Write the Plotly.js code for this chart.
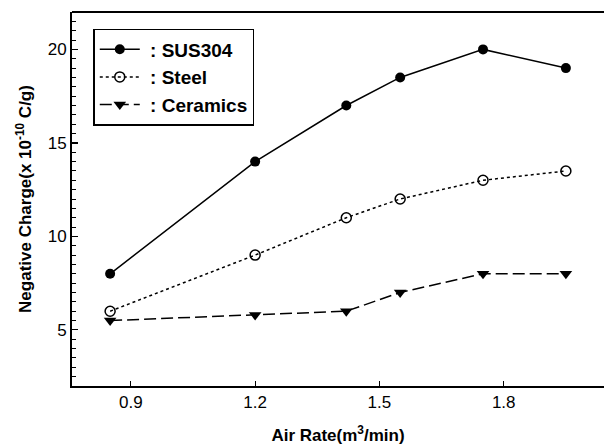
<!DOCTYPE html>
<html>
<head>
<meta charset="utf-8">
<script src="https://cdn.plot.ly/plotly-3.0.1.min.js"></script>
<style>html,body{margin:0;padding:0;background:#fff;}#chart{width:604px;height:447px;}</style>
</head>
<body>
<div id="chart"></div>
<script>
const airRate = [0.85, 1.2, 1.42, 1.55, 1.75, 1.95];
const sus304 = [8.0, 14.0, 17.0, 18.5, 20.0, 19.0];
const steel = [6.0, 9.0, 11.0, 12.0, 13.0, 13.5];
const ceramics = [5.5, 5.8, 6.0, 7.0, 8.0, 8.0];
const seriesNames = ['&nbsp;: SUS304', '&nbsp;: Steel', '&nbsp;: Ceramics'];
const xTicks = [0.9, 1.2, 1.5, 1.8];
const yTicks = [5, 10, 15, 20];

const FONT = 'Liberation Sans, Arial, sans-serif';

const traces = [
  {x: airRate, y: sus304, name: seriesNames[0], mode: 'lines+markers',
   line: {color: '#000', width: 1.5, dash: 'solid'},
   marker: {symbol: 'circle', size: 10, color: '#000'}},
  {x: airRate, y: steel, name: seriesNames[1], mode: 'lines+markers',
   line: {color: '#000', width: 1.5, dash: 'dot'},
   marker: {symbol: 'circle-open', size: 10, color: '#000', line: {width: 1.5, color: '#000'}}},
  {x: airRate, y: ceramics, name: seriesNames[2], mode: 'lines+markers',
   line: {color: '#000', width: 1.5, dash: '12px,5px'},
   marker: {symbol: 'triangle-down', size: 11, color: '#000'}}
];

const layout = {
  width: 604, height: 447,
  margin: {l: 72, r: 0, t: 12, b: 61},
  paper_bgcolor: '#fff', plot_bgcolor: '#fff',
  font: {family: FONT, color: '#000', size: 17},
  showlegend: true,
  legend: {
    x: 0.04, y: 0.955, xanchor: 'left', yanchor: 'top',
    bordercolor: '#000', borderwidth: 1.5, bgcolor: '#fff',
    font: {family: FONT, size: 19, color: '#000', weight: 'bold'},
    itemwidth: 40, tracegroupgap: 0
  },
  shapes: [
    {type: 'line', xref: 'paper', yref: 'paper', x0: 0, x1: 1, y0: 1, y1: 1,
     line: {color: '#000', width: 2}}
  ],
  xaxis: {
    range: [0.758, 2.042],
    tickvals: xTicks, ticktext: xTicks.map(v => v.toFixed(1)),
    ticks: 'inside', ticklen: 5, tickwidth: 1.2, tickcolor: '#000',
    showgrid: false, zeroline: false,
    showline: true, linecolor: '#000', linewidth: 2, mirror: false,
    tickfont: {family: FONT, size: 17, color: '#000'},
    title: {text: '<b>Air Rate(m<sup>3</sup>/min)</b>', font: {family: FONT, size: 17, color: '#000'}, standoff: 18}
  },
  yaxis: {
    range: [2, 22],
    tickvals: yTicks, ticktext: yTicks.map(String),
    ticks: 'inside', ticklen: 6, tickwidth: 1.2, tickcolor: '#000',
    minor: {dtick: 0.5, tick0: 0, ticks: 'inside', ticklen: 4, tickwidth: 1, tickcolor: '#000', showgrid: false},
    showgrid: false, zeroline: false,
    showline: true, linecolor: '#000', linewidth: 2, mirror: false,
    tickfont: {family: FONT, size: 17, color: '#000'},
    title: {text: '<b>Negative Charge(x 10<sup>-10</sup> C/g)</b>', font: {family: FONT, size: 17, color: '#000'}, standoff: 12}
  }
};

Plotly.newPlot('chart', traces, layout, {displayModeBar: false, staticPlot: true});
</script>
</body>
</html>
